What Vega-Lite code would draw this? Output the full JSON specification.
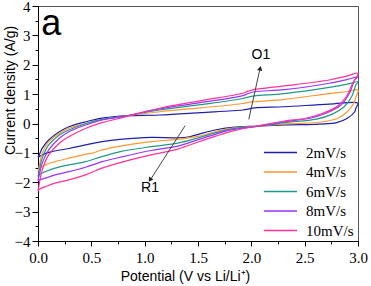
{
"$schema": "https://vega.github.io/schema/vega-lite/v6.json",
"width": 320, "height": 235,
"autosize": {"type": "none"},
"padding": {"left": 38, "top": 6, "right": 13, "bottom": 45},
"background": "white",
"config": {
 "view": {"stroke": "#555", "strokeWidth": 1},
 "axis": {"grid": false, "domainColor": "black", "tickColor": "black", "labelColor": "black", "titleColor": "black", "labelFont": "Liberation Serif", "labelFontSize": 15, "titleFont": "Liberation Sans", "titleFontSize": 14, "titleFontWeight": "normal", "labelOverlap": false, "labelFlush": false}
},
"datasets": {
 "cv": [
  {"s":"2mV/s","i":0,"x":0,"y":-1.15},{"s":"2mV/s","i":1,"x":0.02,"y":-1.0},{"s":"2mV/s","i":2,"x":0.04,"y":-0.84},{"s":"2mV/s","i":3,"x":0.1,"y":-0.56},{"s":"2mV/s","i":4,"x":0.2,"y":-0.28},{"s":"2mV/s","i":5,"x":0.29,"y":-0.11},{"s":"2mV/s","i":6,"x":0.45,"y":0.06},{"s":"2mV/s","i":7,"x":0.6,"y":0.18},{"s":"2mV/s","i":8,"x":0.77,"y":0.25},{"s":"2mV/s","i":9,"x":1.14,"y":0.29},{"s":"2mV/s","i":10,"x":1.52,"y":0.37},{"s":"2mV/s","i":11,"x":1.92,"y":0.46},{"s":"2mV/s","i":12,"x":1.97,"y":0.49},{"s":"2mV/s","i":13,"x":2.03,"y":0.53},{"s":"2mV/s","i":14,"x":2.31,"y":0.57},{"s":"2mV/s","i":15,"x":2.73,"y":0.66},{"s":"2mV/s","i":16,"x":3.0,"y":0.69},
  {"s":"2mV/s","i":17,"x":2.98,"y":0.52},{"s":"2mV/s","i":18,"x":2.97,"y":0.40},{"s":"2mV/s","i":19,"x":2.9,"y":0.18},{"s":"2mV/s","i":20,"x":2.8,"y":0.03},{"s":"2mV/s","i":21,"x":2.64,"y":-0.02},{"s":"2mV/s","i":22,"x":2.31,"y":-0.05},{"s":"2mV/s","i":23,"x":2.07,"y":-0.09},{"s":"2mV/s","i":24,"x":1.82,"y":-0.13},{"s":"2mV/s","i":25,"x":1.66,"y":-0.22},{"s":"2mV/s","i":26,"x":1.51,"y":-0.36},{"s":"2mV/s","i":27,"x":1.42,"y":-0.45},{"s":"2mV/s","i":28,"x":1.31,"y":-0.49},{"s":"2mV/s","i":29,"x":1.06,"y":-0.47},{"s":"2mV/s","i":30,"x":0.77,"y":-0.54},{"s":"2mV/s","i":31,"x":0.6,"y":-0.62},{"s":"2mV/s","i":32,"x":0.445,"y":-0.73},{"s":"2mV/s","i":33,"x":0.29,"y":-0.85},{"s":"2mV/s","i":34,"x":0.13,"y":-0.96},{"s":"2mV/s","i":35,"x":0.05,"y":-1.05},{"s":"2mV/s","i":36,"x":0,"y":-1.15},
  {"s":"4mV/s","i":0,"x":0,"y":-1.64},{"s":"4mV/s","i":1,"x":0.02,"y":-1.3},{"s":"4mV/s","i":2,"x":0.04,"y":-1.01},{"s":"4mV/s","i":3,"x":0.1,"y":-0.62},{"s":"4mV/s","i":4,"x":0.2,"y":-0.33},{"s":"4mV/s","i":5,"x":0.29,"y":-0.16},{"s":"4mV/s","i":6,"x":0.45,"y":0.0},{"s":"4mV/s","i":7,"x":0.6,"y":0.13},{"s":"4mV/s","i":8,"x":0.77,"y":0.23},{"s":"4mV/s","i":9,"x":1.14,"y":0.40},{"s":"4mV/s","i":10,"x":1.52,"y":0.53},{"s":"4mV/s","i":11,"x":1.92,"y":0.68},{"s":"4mV/s","i":12,"x":1.97,"y":0.72},{"s":"4mV/s","i":13,"x":2.03,"y":0.74},{"s":"4mV/s","i":14,"x":2.31,"y":0.82},{"s":"4mV/s","i":15,"x":2.73,"y":1.02},{"s":"4mV/s","i":16,"x":2.9,"y":1.09},{"s":"4mV/s","i":17,"x":3.0,"y":1.14},
  {"s":"4mV/s","i":18,"x":2.98,"y":0.9},{"s":"4mV/s","i":19,"x":2.96,"y":0.69},{"s":"4mV/s","i":20,"x":2.9,"y":0.40},{"s":"4mV/s","i":21,"x":2.81,"y":0.18},{"s":"4mV/s","i":22,"x":2.67,"y":0.06},{"s":"4mV/s","i":23,"x":2.45,"y":0.0},{"s":"4mV/s","i":24,"x":2.31,"y":-0.01},{"s":"4mV/s","i":25,"x":2.07,"y":-0.09},{"s":"4mV/s","i":26,"x":1.82,"y":-0.16},{"s":"4mV/s","i":27,"x":1.66,"y":-0.28},{"s":"4mV/s","i":28,"x":1.51,"y":-0.43},{"s":"4mV/s","i":29,"x":1.31,"y":-0.54},{"s":"4mV/s","i":30,"x":1.06,"y":-0.62},{"s":"4mV/s","i":31,"x":0.77,"y":-0.77},{"s":"4mV/s","i":32,"x":0.6,"y":-0.90},{"s":"4mV/s","i":33,"x":0.52,"y":-1.0},{"s":"4mV/s","i":34,"x":0.445,"y":-1.05},{"s":"4mV/s","i":35,"x":0.29,"y":-1.18},{"s":"4mV/s","i":36,"x":0.16,"y":-1.30},{"s":"4mV/s","i":37,"x":0.07,"y":-1.41},{"s":"4mV/s","i":38,"x":0.02,"y":-1.52},{"s":"4mV/s","i":39,"x":0,"y":-1.64},
  {"s":"6mV/s","i":0,"x":0,"y":-1.81},{"s":"6mV/s","i":1,"x":0.02,"y":-1.45},{"s":"6mV/s","i":2,"x":0.04,"y":-1.18},{"s":"6mV/s","i":3,"x":0.1,"y":-0.73},{"s":"6mV/s","i":4,"x":0.2,"y":-0.39},{"s":"6mV/s","i":5,"x":0.29,"y":-0.22},{"s":"6mV/s","i":6,"x":0.45,"y":0.0},{"s":"6mV/s","i":7,"x":0.6,"y":0.14},{"s":"6mV/s","i":8,"x":0.77,"y":0.23},{"s":"6mV/s","i":9,"x":1.14,"y":0.46},{"s":"6mV/s","i":10,"x":1.52,"y":0.64},{"s":"6mV/s","i":11,"x":1.92,"y":0.85},{"s":"6mV/s","i":12,"x":1.97,"y":0.90},{"s":"6mV/s","i":13,"x":2.03,"y":0.94},{"s":"6mV/s","i":14,"x":2.31,"y":1.02},{"s":"6mV/s","i":15,"x":2.73,"y":1.23},{"s":"6mV/s","i":16,"x":2.9,"y":1.34},{"s":"6mV/s","i":17,"x":3.0,"y":1.42},
  {"s":"6mV/s","i":18,"x":2.98,"y":1.31},{"s":"6mV/s","i":19,"x":2.94,"y":0.91},{"s":"6mV/s","i":20,"x":2.87,"y":0.57},{"s":"6mV/s","i":21,"x":2.76,"y":0.32},{"s":"6mV/s","i":22,"x":2.61,"y":0.15},{"s":"6mV/s","i":23,"x":2.31,"y":0.03},{"s":"6mV/s","i":24,"x":2.07,"y":-0.09},{"s":"6mV/s","i":25,"x":1.82,"y":-0.18},{"s":"6mV/s","i":26,"x":1.66,"y":-0.32},{"s":"6mV/s","i":27,"x":1.51,"y":-0.48},{"s":"6mV/s","i":28,"x":1.31,"y":-0.67},{"s":"6mV/s","i":29,"x":1.06,"y":-0.79},{"s":"6mV/s","i":30,"x":0.77,"y":-0.96},{"s":"6mV/s","i":31,"x":0.6,"y":-1.13},{"s":"6mV/s","i":32,"x":0.445,"y":-1.30},{"s":"6mV/s","i":33,"x":0.29,"y":-1.41},{"s":"6mV/s","i":34,"x":0.16,"y":-1.52},{"s":"6mV/s","i":35,"x":0.07,"y":-1.64},{"s":"6mV/s","i":36,"x":0.02,"y":-1.72},{"s":"6mV/s","i":37,"x":0,"y":-1.81},
  {"s":"8mV/s","i":0,"x":0,"y":-1.95},{"s":"8mV/s","i":1,"x":0.02,"y":-1.62},{"s":"8mV/s","i":2,"x":0.04,"y":-1.35},{"s":"8mV/s","i":3,"x":0.1,"y":-0.90},{"s":"8mV/s","i":4,"x":0.2,"y":-0.50},{"s":"8mV/s","i":5,"x":0.29,"y":-0.28},{"s":"8mV/s","i":6,"x":0.45,"y":-0.05},{"s":"8mV/s","i":7,"x":0.6,"y":0.12},{"s":"8mV/s","i":8,"x":0.77,"y":0.22},{"s":"8mV/s","i":9,"x":1.14,"y":0.50},{"s":"8mV/s","i":10,"x":1.52,"y":0.71},{"s":"8mV/s","i":11,"x":1.92,"y":0.95},{"s":"8mV/s","i":12,"x":1.97,"y":1.02},{"s":"8mV/s","i":13,"x":2.03,"y":1.08},{"s":"8mV/s","i":14,"x":2.31,"y":1.15},{"s":"8mV/s","i":15,"x":2.73,"y":1.37},{"s":"8mV/s","i":16,"x":2.9,"y":1.50},{"s":"8mV/s","i":17,"x":3.0,"y":1.59},
  {"s":"8mV/s","i":18,"x":2.97,"y":1.48},{"s":"8mV/s","i":19,"x":2.92,"y":1.03},{"s":"8mV/s","i":20,"x":2.84,"y":0.63},{"s":"8mV/s","i":21,"x":2.70,"y":0.35},{"s":"8mV/s","i":22,"x":2.55,"y":0.18},{"s":"8mV/s","i":23,"x":2.31,"y":0.06},{"s":"8mV/s","i":24,"x":2.07,"y":-0.09},{"s":"8mV/s","i":25,"x":1.82,"y":-0.21},{"s":"8mV/s","i":26,"x":1.66,"y":-0.37},{"s":"8mV/s","i":27,"x":1.51,"y":-0.54},{"s":"8mV/s","i":28,"x":1.31,"y":-0.77},{"s":"8mV/s","i":29,"x":1.06,"y":-0.92},{"s":"8mV/s","i":30,"x":0.77,"y":-1.15},{"s":"8mV/s","i":31,"x":0.6,"y":-1.30},{"s":"8mV/s","i":32,"x":0.445,"y":-1.49},{"s":"8mV/s","i":33,"x":0.29,"y":-1.64},{"s":"8mV/s","i":34,"x":0.16,"y":-1.75},{"s":"8mV/s","i":35,"x":0.07,"y":-1.86},{"s":"8mV/s","i":36,"x":0.02,"y":-1.91},{"s":"8mV/s","i":37,"x":0,"y":-1.95},
  {"s":"10mV/s","i":0,"x":0,"y":-2.30},{"s":"10mV/s","i":1,"x":0.02,"y":-1.9},{"s":"10mV/s","i":2,"x":0.04,"y":-1.58},{"s":"10mV/s","i":3,"x":0.1,"y":-1.07},{"s":"10mV/s","i":4,"x":0.2,"y":-0.67},{"s":"10mV/s","i":5,"x":0.29,"y":-0.45},{"s":"10mV/s","i":6,"x":0.45,"y":-0.16},{"s":"10mV/s","i":7,"x":0.6,"y":0.03},{"s":"10mV/s","i":8,"x":0.77,"y":0.18},{"s":"10mV/s","i":9,"x":1.14,"y":0.52},{"s":"10mV/s","i":10,"x":1.52,"y":0.77},{"s":"10mV/s","i":11,"x":1.92,"y":1.03},{"s":"10mV/s","i":12,"x":1.97,"y":1.10},{"s":"10mV/s","i":13,"x":2.03,"y":1.16},{"s":"10mV/s","i":14,"x":2.31,"y":1.28},{"s":"10mV/s","i":15,"x":2.73,"y":1.48},{"s":"10mV/s","i":16,"x":2.9,"y":1.62},{"s":"10mV/s","i":17,"x":3.0,"y":1.71},
  {"s":"10mV/s","i":18,"x":2.95,"y":1.37},{"s":"10mV/s","i":19,"x":2.89,"y":0.91},{"s":"10mV/s","i":20,"x":2.80,"y":0.57},{"s":"10mV/s","i":21,"x":2.67,"y":0.35},{"s":"10mV/s","i":22,"x":2.51,"y":0.18},{"s":"10mV/s","i":23,"x":2.31,"y":0.085},{"s":"10mV/s","i":24,"x":2.07,"y":-0.07},{"s":"10mV/s","i":25,"x":1.82,"y":-0.26},{"s":"10mV/s","i":26,"x":1.66,"y":-0.44},{"s":"10mV/s","i":27,"x":1.51,"y":-0.62},{"s":"10mV/s","i":28,"x":1.31,"y":-0.87},{"s":"10mV/s","i":29,"x":1.06,"y":-1.07},{"s":"10mV/s","i":30,"x":0.77,"y":-1.33},{"s":"10mV/s","i":31,"x":0.6,"y":-1.52},{"s":"10mV/s","i":32,"x":0.445,"y":-1.75},{"s":"10mV/s","i":33,"x":0.29,"y":-1.92},{"s":"10mV/s","i":34,"x":0.16,"y":-2.03},{"s":"10mV/s","i":35,"x":0.07,"y":-2.15},{"s":"10mV/s","i":36,"x":0.02,"y":-2.22},{"s":"10mV/s","i":37,"x":0,"y":-2.30}
 ],
 "arrows": [
  {"k":"O1","x":1.976,"y":0.14,"x2":2.08,"y2":1.85},
  {"k":"R1","x":1.38,"y":-0.07,"x2":1.06,"y2":-1.88}
 ],
 "labels": [
  {"t":"O1","x":2.09,"y":2.33},
  {"t":"R1","x":1.05,"y":-2.2}
 ],
 "panel": [{"t":"a","x":0.03,"y":3.0}],
 "headO": [{"x":2.083,"y":1.88}],
 "headR": [{"x":1.05,"y":-1.92}]
},
"encoding": {
 "x": {"field": "x", "type": "quantitative", "scale": {"domain": [0, 3], "nice": false, "zero": false},
  "axis": {"title": "Potential (V vs Li/Li⁺)", "values": [0,0.25,0.5,0.75,1,1.25,1.5,1.75,2,2.25,2.5,2.75,3],
   "labelExpr": "abs(datum.value*2-round(datum.value*2))<0.001 ? format(datum.value,'.1f') : ''",
   "tickSize": {"condition": {"test": "abs(datum.value*2-round(datum.value*2))<0.001", "value": 5}, "value": 3},
   "labelOverlap": false, "labelPadding": 4, "titleX": 147, "titleY": 35, "titleBaseline": "middle"}},
 "y": {"field": "y", "type": "quantitative", "scale": {"domain": [-4, 4], "nice": false, "zero": false},
  "axis": {"title": "Current density (A/g)", "values": [-4,-3.5,-3,-2.5,-2,-1.5,-1,-0.5,0,0.5,1,1.5,2,2.5,3,3.5,4],
   "labelExpr": "abs(datum.value-round(datum.value))<0.001 ? format(datum.value,'d') : ''",
   "tickSize": {"condition": {"test": "abs(datum.value-round(datum.value))<0.001", "value": 6}, "value": 3},
   "labelOverlap": false, "labelPadding": 2, "titleX": -28, "titleY": 84, "titleBaseline": "middle", "titleAlign": "center"}}
},
"layer": [
 {
  "data": {"name": "cv"},
  "mark": {"type": "line", "strokeWidth": 1.2, "interpolate": "catmull-rom"},
  "encoding": {
   "color": {"field": "s", "type": "nominal",
    "scale": {"domain": ["2mV/s","4mV/s","6mV/s","8mV/s","10mV/s"], "range": ["#1f1fa8","#ff9933","#229988","#9933ff","#ff3399"]},
    "legend": {"orient": "none", "legendX": 235, "legendY": 139, "title": null, "symbolType": "M-3,0H3", "symbolSize": 121, "symbolStrokeWidth": 1.5, "labelOffset": 18, "rowPadding": 3.5, "labelFont": "Liberation Serif", "labelFontSize": 15, "labelColor": "black", "padding": 0}},
   "order": {"field": "i", "type": "quantitative"}
  }
 },
 {
  "data": {"name": "arrows"},
  "mark": {"type": "rule", "color": "#333", "strokeWidth": 0.9},
  "encoding": {"x2": {"field": "x2"}, "y2": {"field": "y2"}}
 },
 {
  "data": {"name": "headO"},
  "mark": {"type": "point", "shape": "triangle-up", "filled": true, "color": "#222", "size": 28, "angle": 12.6, "opacity": 1}
 },
 {
  "data": {"name": "headR"},
  "mark": {"type": "point", "shape": "triangle-up", "filled": true, "color": "#222", "size": 28, "angle": 213, "opacity": 1}
 },
 {
  "data": {"name": "labels"},
  "mark": {"type": "text", "font": "Liberation Sans", "fontSize": 14, "color": "black", "align": "center", "baseline": "middle"},
  "encoding": {"text": {"field": "t"}}
 },
 {
  "data": {"name": "panel"},
  "mark": {"type": "text", "font": "Liberation Sans", "fontSize": 36, "color": "black", "align": "left", "baseline": "alphabetic"},
  "encoding": {"text": {"field": "t"}}
 }
]
}
